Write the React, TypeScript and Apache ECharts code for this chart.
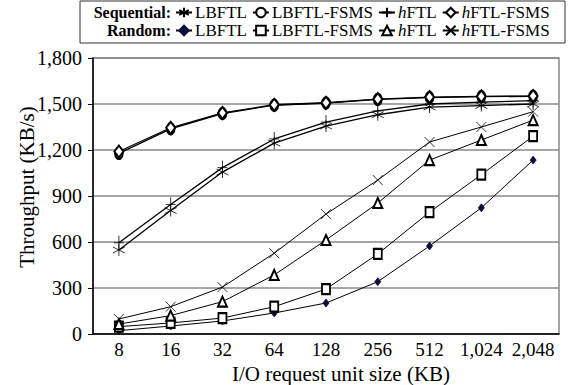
import React, { useEffect, useRef } from "react";
import * as echarts from "echarts";

const categories = ["8", "16", "32", "64", "128", "256", "512", "1,024", "2,048"];
const yTicks = { min: 0, max: 1800, interval: 300 };

const seqLBFTL = [548, 805, 1056, 1245, 1356, 1430, 1480, 1490, 1500];
const seqLBFTLFSMS = [1178, 1338, 1438, 1492, 1506, 1530, 1542, 1548, 1550];
const seqHFTL = [595, 845, 1085, 1272, 1382, 1455, 1500, 1512, 1522];
const seqHFTLFSMS = [1190, 1345, 1442, 1495, 1508, 1532, 1545, 1550, 1552];

const rndLBFTL = [22, 52, 85, 137, 202, 341, 574, 823, 1134];
const rndLBFTLFSMS = [48, 72, 104, 178, 293, 522, 795, 1039, 1290];
const rndHFTL = [65, 120, 211, 385, 613, 854, 1134, 1265, 1395];
const rndHFTLFSMS = [98, 178, 306, 527, 782, 1004, 1252, 1350, 1450];

const FONT = "'Liberation Serif', 'Times New Roman', serif";

const ASTERISK = "path://M5,0L5,10M0.7,2.5L9.3,7.5M0.7,7.5L9.3,2.5";
const PLUS = "path://M5,0L5,10M0,5L10,5";
const CROSS = "path://M0,0L10,10M0,10L10,0";

type S = { id: string; label: string; data: number[]; symbol: string; size: number | number[]; color?: string };

const seqSeries: S[] = [
  { id: "seq-LBFTL", label: "LBFTL", data: seqLBFTL, symbol: ASTERISK, size: 12 },
  { id: "seq-LBFTL-FSMS", label: "LBFTL-FSMS", data: seqLBFTLFSMS, symbol: "emptyCircle", size: [8, 11] },
  { id: "seq-hFTL", label: "{i|h}FTL", data: seqHFTL, symbol: PLUS, size: [10, 14] },
  { id: "seq-hFTL-FSMS", label: "{i|h}FTL-FSMS", data: seqHFTLFSMS, symbol: "emptyDiamond", size: [9, 12] },
];
const rndSeries: S[] = [
  { id: "rnd-LBFTL", label: "LBFTL", data: rndLBFTL, symbol: "diamond", size: [6, 8], color: "#0c0c3c" },
  { id: "rnd-LBFTL-FSMS", label: "LBFTL-FSMS", data: rndLBFTLFSMS, symbol: "emptyRect", size: [8, 10] },
  { id: "rnd-hFTL", label: "{i|h}FTL", data: rndHFTL, symbol: "emptyTriangle", size: [9, 10] },
  { id: "rnd-hFTL-FSMS", label: "{i|h}FTL-FSMS", data: rndHFTLFSMS, symbol: CROSS, size: 10 },
];

const labelMap: Record<string, string> = {};
[...seqSeries, ...rndSeries].forEach((s) => (labelMap[s.id] = s.label));

function mkSeries(s: S, lw: number) {
  const c = s.color || "#000";
  return {
    name: s.id,
    type: "line",
    data: s.data,
    symbol: s.symbol,
    symbolSize: s.size,
    showAllSymbol: true,
    lineStyle: { color: "#000", width: lw },
    itemStyle: { color: c, borderColor: c, borderWidth: 0.8 },
    z: 3,
  };
}

const legendBase = {
  orient: "horizontal",
  left: 175,
  width: 392,
  itemWidth: 16,
  itemHeight: 12,
  itemGap: 5,
  padding: 0,
  formatter: (n: string) => labelMap[n],
  textStyle: {
    fontFamily: FONT,
    fontSize: 17,
    color: "#000",
    padding: [0, 0, 0, -2],
    rich: { i: { fontFamily: FONT, fontSize: 17, fontStyle: "italic", color: "#000" } },
  },
};

export default function App() {
  const ref = useRef<HTMLDivElement>(null);
  useEffect(() => {
    if (!ref.current) return;
    const chart = echarts.init(ref.current, null, { renderer: "svg" });
    chart.setOption({
      animation: false,
      backgroundColor: "#fff",
      textStyle: { fontFamily: FONT },
      grid: { left: 93, right: 10, top: 58, bottom: 51, show: true, borderColor: "#888", borderWidth: 1.5 },
      legend: [
        { ...legendBase, top: 4, data: seqSeries.map((s) => s.id) },
        { ...legendBase, top: 22, data: rndSeries.map((s) => s.id) },
      ],
      xAxis: {
        type: "category",
        data: categories,
        boundaryGap: true,
        axisLine: { lineStyle: { color: "#000", width: 1.5 } },
        axisTick: { inside: true, length: 5, lineStyle: { color: "#000", width: 1 } },
        axisLabel: { fontFamily: FONT, fontSize: 19, color: "#000", margin: 6, interval: 0 },
      },
      yAxis: {
        type: "value",
        min: yTicks.min,
        max: yTicks.max,
        interval: yTicks.interval,
        axisLine: { show: true, lineStyle: { color: "#000", width: 1.5 } },
        axisTick: { show: true, length: 5, lineStyle: { color: "#000", width: 1 } },
        splitLine: { lineStyle: { color: "#888", width: 1.5 } },
        axisLabel: {
          fontFamily: FONT,
          fontSize: 20,
          color: "#000",
          margin: 11,
          formatter: (v: number) => v.toLocaleString("en-US"),
        },
      },
      graphic: [
        { type: "rect", shape: { x: 80, y: 1, width: 485, height: 42 }, style: { fill: "none", stroke: "#333", lineWidth: 1 }, z: 10 },
        { type: "text", x: 171, y: 12, style: { text: "Sequential:", font: `bold 16px ${FONT}`, fill: "#000", textAlign: "right", textVerticalAlign: "middle" }, z: 10 },
        { type: "text", x: 171, y: 30, style: { text: "Random:", font: `bold 16px ${FONT}`, fill: "#000", textAlign: "right", textVerticalAlign: "middle" }, z: 10 },
        { type: "text", x: 27, y: 187, rotation: Math.PI / 2, style: { text: "Throughput (KB/s)", font: `21px ${FONT}`, fill: "#000", textAlign: "center", textVerticalAlign: "middle" }, z: 10 },
        { type: "text", x: 341, y: 374, style: { text: "I/O request unit size (KB)", font: `21px ${FONT}`, fill: "#000", textAlign: "center", textVerticalAlign: "middle" }, z: 10 },
      ],
      series: [
        ...seqSeries.map((s) => mkSeries(s, 1.3)),
        ...rndSeries.map((s) => mkSeries(s, 1)),
      ],
    });
    return () => chart.dispose();
  }, []);
  return <div ref={ref} style={{ width: 569, height: 385, position: "absolute", left: 0, top: 0 }} />;
}
